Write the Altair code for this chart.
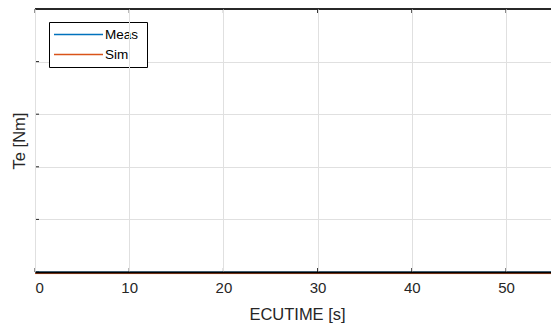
import altair as alt
import pandas as pd

# data
time_s = [0, 56]
meas = [0.0, 0.0]
sim = [-0.03, -0.03]
series = ["Meas", "Sim"]
colors = ["#0072BD", "#D95319"]
x_ticks = [0, 10, 20, 30, 40, 50]
y_ticks = [0, 1, 2, 3, 4, 5]

W, H = 516, 263
XMAX = 54.78
FONT = "Liberation Sans"
INK = "#262626"

df = pd.DataFrame({
    "t": time_s * 2,
    "v": meas + sim,
    "s": [series[0]] * len(time_s) + [series[1]] * len(time_s),
})
xt = pd.DataFrame({"t": x_ticks})
yt = pd.DataFrame({"v": y_ticks})

xscale = alt.Scale(domain=[0, XMAX], nice=False, zero=False)
yscale = alt.Scale(domain=[0, 5], nice=False, zero=False)

lines = alt.Chart(df).mark_line(strokeWidth=1, clip=False).encode(
    x=alt.X("t:Q", scale=xscale,
            axis=alt.Axis(title="ECUTIME [s]", values=x_ticks, grid=True,
                          gridColor="#e0e0e0", ticks=False, tickSize=0,
                          labelPadding=8, titlePadding=11, titleX=262,
                          domainColor="#000000", domainWidth=2.2, zindex=1,
                          labelFont=FONT, labelFontSize=15, labelColor=INK,
                          titleFont=FONT, titleFontSize=16.5, titleColor=INK,
                          titleFontWeight="normal")),
    y=alt.Y("v:Q", scale=yscale,
            axis=alt.Axis(title="Te [Nm]", values=y_ticks, labels=False,
                          grid=True, gridColor="#e0e0e0", ticks=False, tickSize=0,
                          domainColor=INK, titlePadding=8,
                          titleFont=FONT, titleFontSize=16.5, titleColor=INK,
                          titleFontWeight="normal")),
    color=alt.Color("s:N", scale=alt.Scale(domain=series, range=colors),
                    legend=alt.Legend(title=None, orient="none", legendX=14, legendY=13,
                                      symbolType="stroke", symbolSize=49 * 49,
                                      symbolStrokeWidth=1.3, clipHeight=20,
                                      symbolOffset=1.5, labelOffset=1, rowPadding=0,
                                      padding=2.5,
                                      labelFont=FONT, labelFontSize=13.5,
                                      labelColor="#000000")),
)

# legend frame (layout only)
legend_box = alt.Chart(pd.DataFrame({"k": [0]})).mark_rect(
    fill="#ffffff", stroke="#000000", strokeWidth=1).encode(
    x=alt.value(14.5), x2=alt.value(112.5), y=alt.value(13.5), y2=alt.value(58.5))

top_line = alt.Chart(xt).mark_rule(color=INK, strokeWidth=1).encode(
    x=alt.value(0), x2=alt.value(W), y=alt.value(0))
bottom_ticks = alt.Chart(xt).mark_rule(color=INK, strokeWidth=1).encode(
    x=alt.X("t:Q", scale=xscale), y=alt.value(H), y2=alt.value(H - 4))
top_ticks = alt.Chart(xt).mark_rule(color=INK, strokeWidth=1).encode(
    x=alt.X("t:Q", scale=xscale), y=alt.value(0), y2=alt.value(4))
left_ticks = alt.Chart(yt).mark_rule(color=INK, strokeWidth=1).encode(
    y=alt.Y("v:Q", scale=yscale), x=alt.value(0), x2=alt.value(4))

chart = alt.layer(top_line, top_ticks, left_ticks, lines, bottom_ticks, legend_box).properties(
    width=W, height=H,
    autosize=alt.AutoSizeParams(type="none"),
    padding={"left": 27, "top": 1, "right": 0, "bottom": 52},
).configure_view(strokeWidth=0).configure(background="#ffffff")

chart.save("out.html", embed_options={"renderer": "svg", "actions": False})
